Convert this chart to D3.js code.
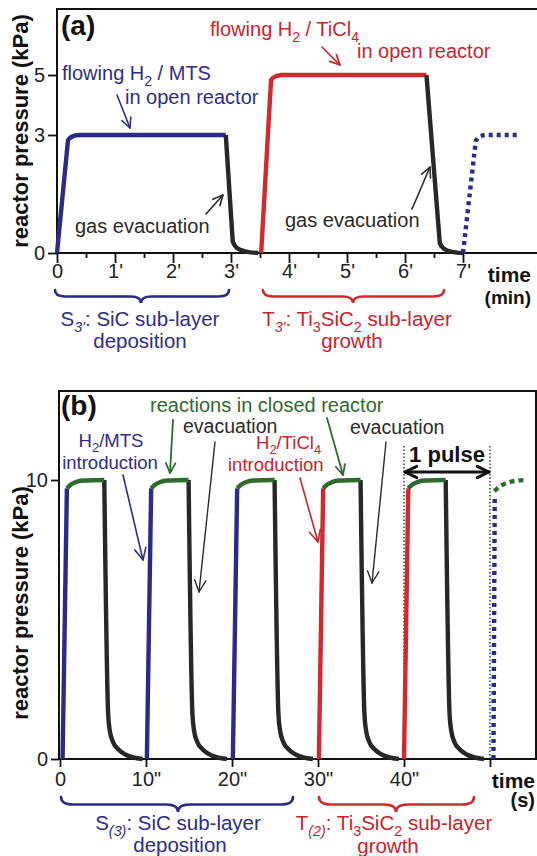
<!DOCTYPE html>
<html><head><meta charset="utf-8">
<script src="https://cdn.jsdelivr.net/npm/d3@7"></script>
<style>html,body{margin:0;padding:0;background:#fff;}svg{display:block;}</style>
</head><body>
<script>
// ---------- DATA ----------
// Panel (a): time in minutes, pressure in kPa
const aTicksMajor = [0, 1, 2, 3, 4, 5, 6, 7];
const aTicksMinor = [0.5, 1.5, 2.5, 3.5, 4.5, 5.5, 6.5];
const aYTicks = [0, 3, 5];
const aBlue = [[0,0],[0.19,2.87],[0.22,2.92],[0.26,2.96],[0.32,2.99],[0.4,3.0],[2.91,3.0]];
const aBlack1 = [[2.91,3.0],[3.03,0.29],[3.06,0.2],[3.1,0.13],[3.16,0.08],[3.24,0.04],[3.34,0.015],[3.47,0]];
const aRed = [[3.52,0],[3.69,4.83],[3.72,4.9],[3.76,4.95],[3.81,4.98],[3.87,5.0],[6.37,5.0]];
const aBlack2 = [[6.37,5.0],[6.6,0.25],[6.63,0.17],[6.67,0.11],[6.73,0.06],[6.81,0.03],[6.9,0.01],[7.0,0]];
const aBlueDotted = [[7.0,0],[7.22,2.85],[7.25,2.92],[7.29,2.96],[7.34,2.99],[7.4,3.0],[7.97,3.0]];

// Panel (b): time in seconds, pressure in kPa
const bTicks = [0, 10, 20, 30, 40, 50];
const bTickLabels = ["0", "10\"", "20\"", "30\"", "40\"", ""];
const bYTicks = [0, 10];
const pulseStarts = [0.3, 10.1, 20.1, 30.1, 40.0];
const pulseKinds = ["MTS", "MTS", "MTS", "TiCl4", "TiCl4"];
const pulseRise = [[0,0],[0.5,9.7]];
const pulseReaction = [[0.5,9.7],[0.9,9.82],[1.5,9.92],[2.4,9.98],[4.85,10.0]];
const pulseEvac = [[4.85,10.0],[5.3,1.6],[5.5,1.0],[5.85,0.62],[6.5,0.34],[7.3,0.16],[8.2,0.06],[9.3,0]];
const bBlueDotted = [[50.4,0],[50.55,9.35]];
const bGreenDotted = [[50.5,9.6],[51.4,9.82],[52.6,9.95],[54.2,10.0]];

// ---------- SETUP ----------
const W = 537, H = 856;
const FONT = "'Liberation Sans', Arial, Helvetica, sans-serif";
const C = {blue:"#2b2a86", red:"#d2282e", green:"#2f6a30", black:"#272727",
           tBlue:"#2e2d8a", tRed:"#c9232e", tGreen:"#2f6a30", tBlack:"#2a2a2a"};

const svg = d3.select("body").append("svg").attr("width", W).attr("height", H)
  .style("font-family", FONT);

function rich(g, x, y, parts, o = {}) {
  const size = o.size || 20;
  const t = g.append("text").attr("x", x).attr("y", y)
    .attr("font-size", size).attr("fill", o.fill || C.tBlack)
    .attr("text-anchor", o.anchor || "start")
    .attr("font-weight", o.weight || "normal");
  let shift = 0;
  parts.forEach(p => {
    if (typeof p === "string") p = {t: p};
    const target = p.sub ? size * 0.28 : 0;
    const ts = t.append("tspan").text(p.t).attr("dy", target - shift);
    shift = target;
    if (p.sub) ts.attr("font-size", size * 0.7);
    if (p.it) ts.attr("font-style", "italic");
  });
  return t;
}

function arrow(g, x1, y1, x2, y2, color, w = 1.6, head = 11, both = false) {
  g.append("line").attr("x1", x1).attr("y1", y1).attr("x2", x2).attr("y2", y2)
    .attr("stroke", color).attr("stroke-width", w).attr("stroke-linecap", "round");
  const drawHead = (xa, ya, xb, yb) => {
    const ang = Math.atan2(yb - ya, xb - xa);
    const a = 0.45;
    const p1 = [xb - head * Math.cos(ang - a), yb - head * Math.sin(ang - a)];
    const p2 = [xb - head * Math.cos(ang + a), yb - head * Math.sin(ang + a)];
    g.append("path").attr("d", `M${p1}L${xb},${yb}L${p2}`)
      .attr("fill", "none").attr("stroke", color).attr("stroke-width", w)
      .attr("stroke-linecap", "round").attr("stroke-linejoin", "round");
  };
  drawHead(x1, y1, x2, y2);
  if (both) drawHead(x2, y2, x1, y1);
}

function brace(g, x1, x2, xm, y, h, color) {
  const r = h / 2;
  const d = `M${x1},${y} Q${x1},${y + r} ${x1 + r * 1.6},${y + r}
    L${xm - r * 1.6},${y + r} Q${xm},${y + r} ${xm},${y + h}
    Q${xm},${y + r} ${xm + r * 1.6},${y + r}
    L${x2 - r * 1.6},${y + r} Q${x2},${y + r} ${x2},${y}`;
  g.append("path").attr("d", d).attr("fill", "none").attr("stroke", color)
    .attr("stroke-width", 2.6).attr("stroke-linecap", "round");
}

function styleAxis(sel, size = 20) {
  sel.select(".domain").remove();
  sel.selectAll(".tick line").attr("stroke", "#111").attr("stroke-width", 1.8);
  sel.selectAll(".tick text").attr("font-size", size).attr("fill", "#222")
    .style("font-family", FONT);
}

function drawLine(g, data, gen, color, dash) {
  const p = g.append("path").datum(data).attr("d", gen).attr("fill", "none")
    .attr("stroke", color).attr("stroke-width", 4.4).attr("stroke-linejoin", "round");
  if (dash) p.attr("stroke-dasharray", dash);
  return p;
}

// ---------- PANEL (a) ----------
const gA = svg.append("g");
const xA = d3.scaleLinear().domain([0, 7]).range([57, 463]);
const yA = d3.scaleLinear().domain([0, 3, 5]).range([253, 135, 75]);

const axA = gA.append("g").attr("transform", "translate(0,253)")
  .call(d3.axisBottom(xA).tickValues(aTicksMajor).tickSize(10).tickPadding(1)
    .tickFormat(d => d === 0 ? "0" : d + "'"));
styleAxis(axA);
const axAm = gA.append("g").attr("transform", "translate(0,253)")
  .call(d3.axisBottom(xA).tickValues(aTicksMinor).tickSize(5).tickFormat(""));
styleAxis(axAm);
const ayA = gA.append("g").attr("transform", "translate(57,0)")
  .call(d3.axisLeft(yA).tickValues(aYTicks).tickSize(9).tickPadding(3)
    .tickFormat(d3.format("d")));
styleAxis(ayA);

gA.append("path").attr("d", `M57,253 V9 H537 M57,253 H537`)
  .attr("fill", "none").attr("stroke", "#111").attr("stroke-width", 2);

const lineA = d3.line().x(d => xA(d[0])).y(d => yA(d[1]));
drawLine(gA, aBlue, lineA, C.blue);
drawLine(gA, aBlack1, lineA, C.black);
drawLine(gA, aRed, lineA, C.red);
drawLine(gA, aBlack2, lineA, C.black);
drawLine(gA, aBlueDotted, lineA, C.blue, "4,4");

// texts (a)
gA.append("text").attr("x", 61).attr("y", 35).attr("font-size", 28)
  .attr("font-weight", "bold").attr("fill", "#111").text("(a)");
rich(gA, 62, 80, ["flowing H", {t:"2", sub:true}, " / MTS"], {fill: C.tBlue});
rich(gA, 125, 104, ["in open reactor"], {fill: C.tBlue});
arrow(gA, 117, 95, 130, 128, C.tBlue, 1.6, 11);
rich(gA, 75, 233, ["gas evacuation"], {fill: C.tBlack});
arrow(gA, 206, 214, 223, 195, C.tBlack, 1.6, 11);
rich(gA, 210, 36, ["flowing H", {t:"2", sub:true}, " / TiCl", {t:"4", sub:true}], {fill: C.tRed});
rich(gA, 357, 58, ["in open reactor"], {fill: C.tRed});
arrow(gA, 322, 47, 340, 65, C.tRed, 1.6, 11);
rich(gA, 285, 227, ["gas evacuation"], {fill: C.tBlack});
arrow(gA, 412, 209, 430, 167, C.tBlack, 1.6, 11);

gA.append("text").attr("transform", "translate(28,131) rotate(-90)")
  .attr("text-anchor", "middle").attr("font-size", 22).attr("font-weight", "bold")
  .attr("fill", "#111").text("reactor pressure (kPa)");
gA.append("text").attr("x", 531).attr("y", 282).attr("text-anchor", "end")
  .attr("font-size", 21).attr("font-weight", "bold").attr("fill", "#111").text("time");
gA.append("text").attr("x", 531).attr("y", 304).attr("text-anchor", "end")
  .attr("font-size", 19).attr("font-weight", "bold").attr("fill", "#111").text("(min)");

brace(gA, 55, 229, 141, 290, 13, C.blue);
brace(gA, 263, 444, 353, 290, 13, C.red);
rich(gA, 140, 326, ["S", {t:"3'", sub:true, it:true}, ": SiC sub-layer"], {fill: C.tBlue, anchor:"middle", size: 20.5});
rich(gA, 140, 348, ["deposition"], {fill: C.tBlue, anchor:"middle", size: 20.5});
rich(gA, 357, 326, ["T", {t:"3'", sub:true, it:true}, ": Ti", {t:"3", sub:true}, "SiC", {t:"2", sub:true}, " sub-layer"], {fill: C.tRed, anchor:"middle", size: 20.5});
rich(gA, 352, 348, ["growth"], {fill: C.tRed, anchor:"middle", size: 20.5});

// ---------- PANEL (b) ----------
const gB = svg.append("g");
const xB = d3.scaleLinear().domain([0, 50]).range([60, 490]);
const yB = d3.scaleLinear().domain([0, 10]).range([759, 480]);

const axB = gB.append("g").attr("transform", "translate(0,759)")
  .call(d3.axisBottom(xB).tickValues(bTicks).tickSize(8).tickPadding(5)
    .tickFormat((d, i) => bTickLabels[i]));
styleAxis(axB);
const ayB = gB.append("g").attr("transform", "translate(59,0)")
  .call(d3.axisLeft(yB).tickValues(bYTicks).tickSize(8).tickPadding(3)
    .tickFormat(d3.format("d")));
styleAxis(ayB);

gB.append("rect").attr("x", 59).attr("y", 391).attr("width", 477).attr("height", 368)
  .attr("fill", "none").attr("stroke", "#111").attr("stroke-width", 2);

// dotted guide lines for "1 pulse"
[40, 50].forEach(t => {
  gB.append("line").attr("x1", xB(t)).attr("x2", xB(t)).attr("y1", 446).attr("y2", 759)
    .attr("stroke", "#111").attr("stroke-width", 1.2).attr("stroke-dasharray", "1.5,2");
});

const lineBc = d3.line().x(d => xB(d[0])).y(d => yB(d[1])).curve(d3.curveMonotoneX);
const lineBl = d3.line().x(d => xB(d[0])).y(d => yB(d[1]));
pulseStarts.forEach((t0, i) => {
  const sh = arr => arr.map(d => [d[0] + t0, d[1]]);
  drawLine(gB, sh(pulseEvac), lineBc, C.black);
  drawLine(gB, sh(pulseRise), lineBl, pulseKinds[i] === "MTS" ? C.blue : C.red);
  drawLine(gB, sh(pulseReaction), lineBc, C.green);
});
drawLine(gB, bBlueDotted, lineBl, C.blue, "4,4");
drawLine(gB, bGreenDotted, lineBc, C.green, "5,4");

// texts (b)
gB.append("text").attr("x", 61).attr("y", 415).attr("font-size", 28)
  .attr("font-weight", "bold").attr("fill", "#111").text("(b)");
rich(gB, 150, 412, ["reactions in closed reactor"], {fill: C.tGreen, size: 20});
rich(gB, 183, 433, ["evacuation"], {fill: C.tBlack, size: 19.5});
rich(gB, 350, 434, ["evacuation"], {fill: C.tBlack, size: 19.5});
rich(gB, 111, 447, ["H", {t:"2", sub:true}, "/MTS"], {fill: C.tBlue, anchor:"middle", size: 18.5});
rich(gB, 110, 469, ["introduction"], {fill: C.tBlue, anchor:"middle", size: 18.5});
rich(gB, 256, 449, ["H", {t:"2", sub:true}, "/TiCl", {t:"4", sub:true}], {fill: C.tRed, size: 18.5});
rich(gB, 228, 471, ["introduction"], {fill: C.tRed, size: 18.5});
gB.append("text").attr("x", 447).attr("y", 462).attr("text-anchor", "middle")
  .attr("font-size", 22).attr("font-weight", "bold").attr("fill", "#111").text("1 pulse");
arrow(gB, xB(40) + 1, 472, xB(50) - 1, 472, "#111", 3, 13, true);

arrow(gB, 173, 420, 170, 473, C.tGreen, 1.8, 11);
arrow(gB, 327, 418, 343, 475, C.tGreen, 1.8, 11);
arrow(gB, 123, 475, 143, 560, C.tBlue, 1.6, 13);
arrow(gB, 300, 478, 318, 542, C.tRed, 1.6, 13);
arrow(gB, 215, 442, 199, 592, C.tBlack, 1.4, 13);
arrow(gB, 386, 442, 372, 583, C.tBlack, 1.4, 13);

gB.append("text").attr("transform", "translate(28,603) rotate(-90)")
  .attr("text-anchor", "middle").attr("font-size", 22).attr("font-weight", "bold")
  .attr("fill", "#111").text("reactor pressure (kPa)");
gB.append("text").attr("x", 535).attr("y", 788).attr("text-anchor", "end")
  .attr("font-size", 21).attr("font-weight", "bold").attr("fill", "#111").text("time");
gB.append("text").attr("x", 535).attr("y", 807).attr("text-anchor", "end")
  .attr("font-size", 20).attr("font-weight", "bold").attr("fill", "#111").text("(s)");

brace(gB, 61, 293, 178, 797, 15, C.blue);
brace(gB, 319, 474, 396, 797, 15, C.red);
rich(gB, 178, 830, ["S", {t:"(3)", sub:true, it:true}, ": SiC sub-layer"], {fill: C.tBlue, anchor:"middle", size: 20.5});
rich(gB, 180, 852, ["deposition"], {fill: C.tBlue, anchor:"middle", size: 20.5});
rich(gB, 394, 830, ["T", {t:"(2)", sub:true, it:true}, ": Ti", {t:"3", sub:true}, "SiC", {t:"2", sub:true}, " sub-layer"], {fill: C.tRed, anchor:"middle", size: 20.5});
rich(gB, 388, 853, ["growth"], {fill: C.tRed, anchor:"middle", size: 20.5});
</script>
</body></html>
